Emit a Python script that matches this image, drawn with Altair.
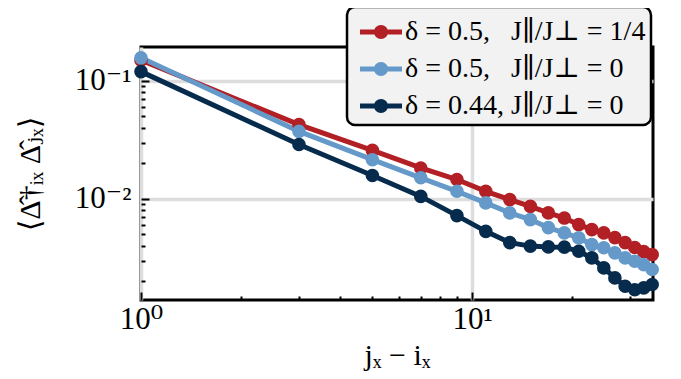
import altair as alt
import pandas as pd

# ---- data ----
x_vals = [1, 3, 5, 7, 9, 11, 13, 15, 17, 19, 21, 23, 25, 27, 29, 31, 33, 35]
red_vals = [0.150, 0.0426, 0.0258, 0.0183, 0.0146, 0.0116, 0.00987, 0.00865, 0.00761,
            0.00688, 0.00606, 0.00549, 0.00515, 0.00470, 0.00426, 0.00387, 0.00357, 0.00337]
blue_vals = [0.157, 0.0374, 0.0215, 0.0151, 0.0116, 0.00925, 0.00761, 0.00668, 0.00571,
             0.00515, 0.00467, 0.00410, 0.00385, 0.00349, 0.00316, 0.00296, 0.00277, 0.00252]
navy_vals = [0.120, 0.0289, 0.0158, 0.0105, 0.00722, 0.00531, 0.00426, 0.00398, 0.00392,
             0.00390, 0.00360, 0.00316, 0.00260, 0.00214, 0.00182, 0.00170, 0.00176, 0.00188]

series_names = ["δ = 0.5,\u2002 J∥/J⊥ = 1/4", "δ = 0.5,\u2002 J∥/J⊥ = 0", "δ = 0.44, J∥/J⊥ = 0"]
series_colors = ["#b21f24", "#6499c9", "#062b4c"]

x_major = [1, 10]
y_major = [0.01, 0.1]

rows = []
for name, vals in zip(series_names, [red_vals, blue_vals, navy_vals]):
    for xv, yv in zip(x_vals, vals):
        rows.append({"x": xv, "y": yv, "series": name})
df = pd.DataFrame(rows)

FONT = "Liberation Serif, DejaVu Serif, serif"
W, H = 512, 253

xscale = alt.Scale(type="log", domain=[1, 35.2], nice=False)
yscale = alt.Scale(type="log", domain=[0.00139, 0.194], nice=False)
cscale = alt.Scale(domain=series_names, range=series_colors)

legend_symbol = ("M-1.05,-0.13 L-0.3,-0.13 L-0.3,0.13 L-1.05,0.13 Z "
                 "M0.3,-0.13 L1.05,-0.13 L1.05,0.13 L0.3,0.13 Z "
                 "M0.35,0 A0.35,0.35 0 1,1 -0.35,0 A0.35,0.35 0 1,1 0.35,0 Z")


def make_legend():
    return alt.Legend(
        orient="none", legendX=206, legendY=-40, title=None,
        fillColor="#f2f2f2", strokeColor="black",
        padding=5, rowPadding=3,
        symbolType=legend_symbol, symbolSize=1600, symbolStrokeWidth=0,
        symbolOpacity=1, symbolOffset=9,
        labelOffset=4, labelFont=FONT, labelFontSize=28, labelColor="black",
        labelLimit=0)


lines = alt.Chart(df).mark_line(strokeWidth=5, clip=False).encode(
    x=alt.X("x:Q", scale=xscale, axis=alt.Axis(
        values=x_major,
        labelExpr="datum.value == 1 ? '10⁰' : '10¹'",
        labelFont=FONT, labelFontSize=31, labelColor="black", labelFlush=False,
        labelPadding=4, ticks=False, domain=False,
        grid=True, gridColor="#dddddd", gridWidth=3.5,
        title="jₓ − iₓ", titleFont=FONT, titleFontSize=30, titleFontWeight="normal",
        titleColor="black", titleY=40, titleBaseline="top")),
    y=alt.Y("y:Q", scale=yscale, axis=alt.Axis(
        values=y_major,
        labelExpr="datum.value == 0.1 ? '10⁻¹' : '10⁻²'",
        labelFont=FONT, labelFontSize=31, labelColor="black",
        labelPadding=10, ticks=False, domain=False,
        grid=True, gridColor="#dddddd", gridWidth=3.5,
        title="⟨Δ̂†ᵢₓ Δ̂ⱼₓ⟩", titleFont=FONT, titleFontSize=30, titleFontWeight="normal",
        titleColor="black", titleX=-96, titleY=H / 2, titleAngle=-90,
        titleBaseline="bottom", titleAlign="center")),
    color=alt.Color("series:N", scale=cscale, legend=make_legend()),
)

major_x = "datum.value == 1 || datum.value == 10"
major_y = "datum.value == 0.1 || datum.value == 0.01"

points = alt.Chart(df).mark_point(filled=True, size=185, opacity=1, clip=False).encode(
    x=alt.X("x:Q", scale=xscale, axis=alt.Axis(
        orient="top", offset=-H, labels=False, domain=False, grid=False,
        ticks=True, tickColor="black", tickWidth=2,
        tickSize={"condition": {"test": major_x, "value": 8}, "value": 4},
        title=None)),
    y=alt.Y("y:Q", scale=yscale, axis=alt.Axis(
        orient="right", offset=-W, labels=False, domain=False, grid=False,
        ticks=True, tickColor="black", tickWidth=2,
        tickSize={"condition": {"test": major_y, "value": 8}, "value": 4},
        title=None)),
    color=alt.Color("series:N", scale=cscale, legend=make_legend()),
)

chart = alt.layer(lines, points).resolve_axis(
    x="independent", y="independent"
).properties(
    width=W, height=H,
    autosize=alt.AutoSizeParams(type="none"),
    padding={"left": 133, "top": 39, "right": 20, "bottom": 71},
    background="white",
).configure_view(
    stroke="black", strokeWidth=3
).configure_legend(
    strokeWidth=2.5, cornerRadius=8
)

chart.save("out.html", embed_options={"renderer": "svg", "actions": False})
